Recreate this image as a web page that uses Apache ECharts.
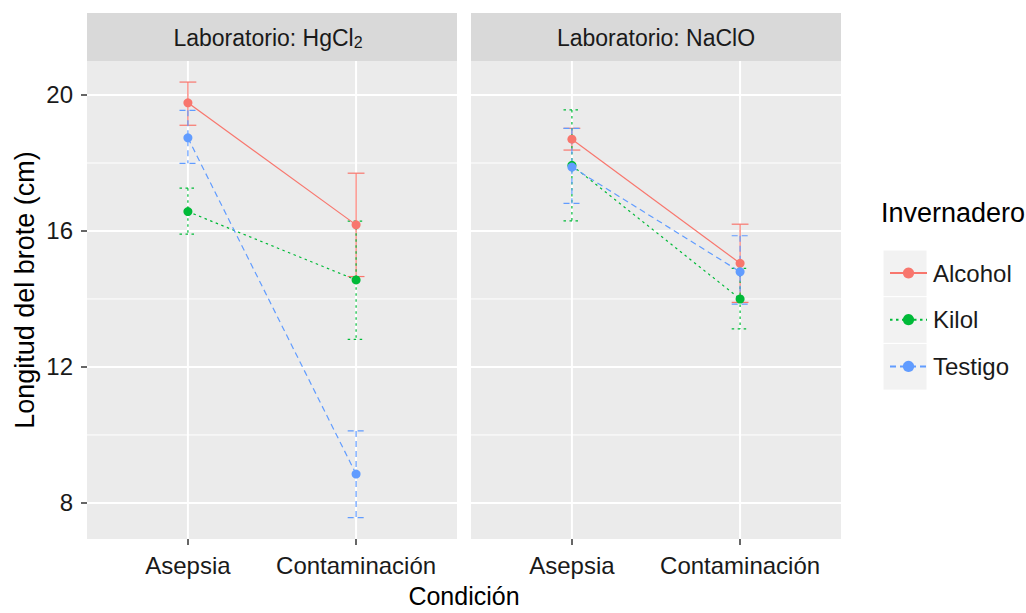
<!DOCTYPE html>
<html>
<head>
<meta charset="utf-8">
<script src="https://cdn.jsdelivr.net/npm/echarts@6/dist/echarts.min.js"></script>
<style>html,body{margin:0;padding:0;background:#fff}#c{width:1026px;height:613px}</style>
</head>
<body>
<div id="c"></div>
<script>
// ---- data ----
const categories = ['Asepsia', 'Contaminación'];
const xPositions = [1, 2];
const groups = ['Alcohol', 'Kilol', 'Testigo'];
const yTicks = [8, 12, 16, 20];
const yMinorTicks = [10, 14, 18];

// Laboratorio: HgCl2
const hgAlcohol = [19.77, 16.18];
const hgAlcoholLow = [19.11, 14.66];
const hgAlcoholHigh = [20.38, 17.70];
const hgKilol = [16.57, 14.56];
const hgKilolLow = [15.91, 12.81];
const hgKilolHigh = [17.26, 16.29];
const hgTestigo = [18.74, 8.85];
const hgTestigoLow = [17.99, 7.57];
const hgTestigoHigh = [19.55, 10.12];

// Laboratorio: NaClO
const naAlcohol = [18.70, 15.05];
const naAlcoholLow = [18.38, 13.90];
const naAlcoholHigh = [19.02, 16.20];
const naKilol = [17.93, 14.00];
const naKilolLow = [16.30, 13.12];
const naKilolHigh = [19.56, 14.90];
const naTestigo = [17.88, 14.80];
const naTestigoLow = [16.81, 13.85];
const naTestigoHigh = [19.02, 15.86];

// ---- styling ----
const colors = ['#F8766D', '#00BA38', '#619CFF'];
const dashes = [null, [2.5, 3.5], [6, 4]];
const lineTypes = ['solid', [2.5, 3.5], [6, 4]];
const FONT = '"Liberation Sans", Arial, sans-serif';
const capHalf = 0.05;

const panels = [
  { means: [hgAlcohol, hgKilol, hgTestigo], lows: [hgAlcoholLow, hgKilolLow, hgTestigoLow], highs: [hgAlcoholHigh, hgKilolHigh, hgTestigoHigh] },
  { means: [naAlcohol, naKilol, naTestigo], lows: [naAlcoholLow, naKilolLow, naTestigoLow], highs: [naAlcoholHigh, naKilolHigh, naTestigoHigh] }
];

function ebRender(color, dash) {
  return function (params, api) {
    const x = api.value(0), lo = api.value(1), hi = api.value(2);
    const top = api.coord([x, hi]), bot = api.coord([x, lo]);
    const l = api.coord([x - capHalf, hi])[0], r = api.coord([x + capHalf, hi])[0];
    const st = () => ({ stroke: color, lineWidth: 1.2, lineDash: dash, fill: null });
    return { type: 'group', children: [
      { type: 'line', shape: { x1: top[0], y1: top[1], x2: bot[0], y2: bot[1] }, style: st() },
      { type: 'line', shape: { x1: l, y1: top[1], x2: r, y2: top[1] }, style: st() },
      { type: 'line', shape: { x1: l, y1: bot[1], x2: r, y2: bot[1] }, style: st() }
    ]};
  };
}

function gridRender(params, api) {
  const cs = params.coordSys;
  const kind = api.value(2);
  if (kind === 2) {
    const x = api.coord([api.value(0), 14])[0];
    return { type: 'line', shape: { x1: x, y1: cs.y, x2: x, y2: cs.y + cs.height }, style: { stroke: '#FFFFFF', lineWidth: 2 } };
  }
  const y = api.coord([1.5, api.value(1)])[1];
  return { type: 'line', shape: { x1: cs.x, y1: y, x2: cs.x + cs.width, y2: y }, style: { stroke: '#FFFFFF', lineWidth: kind === 0 ? 2 : 1 } };
}

const gridData = [];
yTicks.forEach(v => gridData.push([1.5, v, 0]));
yMinorTicks.forEach(v => gridData.push([1.5, v, 1]));
xPositions.forEach(v => gridData.push([v, 14, 2]));

const series = [];
panels.forEach((p, pi) => {
  series.push({ type: 'custom', name: 'grid' + pi, xAxisIndex: pi, yAxisIndex: pi, z: 1, silent: true,
    renderItem: gridRender, data: gridData, encode: { x: 0, y: 1 } });
  groups.forEach((g, gi) => {
    series.push({ type: 'custom', name: 'eb-' + g + '-' + pi, xAxisIndex: pi, yAxisIndex: pi, z: 2 + gi * 0.1,
      renderItem: ebRender(colors[gi], dashes[gi]),
      data: xPositions.map((x, i) => [x, p.lows[gi][i], p.highs[gi][i]]), encode: { x: 0, y: [1, 2] } });
  });
  groups.forEach((g, gi) => {
    series.push({ type: 'line', name: g, xAxisIndex: pi, yAxisIndex: pi, z: 3 + gi * 0.1,
      symbol: 'circle', symbolSize: 9, showSymbol: true,
      itemStyle: { color: colors[gi], borderWidth: 0 },
      lineStyle: { color: colors[gi], width: 1.2, type: lineTypes[gi] },
      data: xPositions.map((x, i) => [x, p.means[gi][i]]) });
  });
});

function xAxisFor(i) {
  return { type: 'value', gridIndex: i, min: 0.4, max: 2.6,
    axisLine: { show: false }, splitLine: { show: false },
    axisTick: { show: true, customValues: xPositions, length: 6, lineStyle: { color: '#333', width: 1.5 } },
    axisLabel: { customValues: xPositions, margin: 14, fontSize: 24, fontFamily: FONT, color: '#1a1a1a',
      formatter: v => categories[xPositions.indexOf(v)] } };
}
function yAxisFor(i) {
  return { type: 'value', gridIndex: i, min: 6.94, max: 21.0,
    axisLine: { show: false }, splitLine: { show: false },
    axisTick: { show: i === 0, customValues: yTicks, length: 6, lineStyle: { color: '#333', width: 1.5 } },
    axisLabel: { show: i === 0, customValues: yTicks, margin: 14, fontSize: 24, fontFamily: FONT, color: '#1a1a1a' } };
}

const option = {
  animation: false,
  backgroundColor: '#FFFFFF',
  grid: [
    { left: 87, top: 61, width: 370, height: 478, show: true, backgroundColor: '#EBEBEB', borderWidth: 0 },
    { left: 471, top: 61, width: 370, height: 478, show: true, backgroundColor: '#EBEBEB', borderWidth: 0 }
  ],
  xAxis: [xAxisFor(0), xAxisFor(1)],
  yAxis: [yAxisFor(0), yAxisFor(1)],
  legend: {
    data: groups, orient: 'vertical', left: 884, top: 253,
    itemWidth: 37, itemHeight: 14, itemGap: 16.7,
    textStyle: { fontSize: 24, fontFamily: FONT, color: '#1a1a1a', lineHeight: 30, padding: [0, 0, 0, 1] },
    selectedMode: false
  },
  graphic: [
    { type: 'rect', shape: { x: 87, y: 13, width: 370, height: 48 }, style: { fill: '#D9D9D9' }, z: -1 },
    { type: 'rect', shape: { x: 471, y: 13, width: 370, height: 48 }, style: { fill: '#D9D9D9' }, z: -1 },
    { type: 'text', x: 268, y: 38, style: { text: 'Laboratorio: HgCl{s|2}', align: 'center', verticalAlign: 'middle',
      font: '23px ' + FONT, fill: '#1a1a1a', rich: { s: { fontSize: 16, fontFamily: FONT, fill: '#1a1a1a', padding: [8, 0, 0, 0] } } } },
    { type: 'text', x: 656, y: 38, style: { text: 'Laboratorio: NaClO', align: 'center', verticalAlign: 'middle',
      font: '23px ' + FONT, fill: '#1a1a1a' } },
    { type: 'text', x: 25, y: 290, rotation: Math.PI / 2, style: { text: 'Longitud del brote (cm)', align: 'center', verticalAlign: 'middle',
      font: '27px ' + FONT, fill: '#000' } },
    { type: 'text', x: 464, y: 596, style: { text: 'Condición', align: 'center', verticalAlign: 'middle',
      font: '25px ' + FONT, fill: '#000' } },
    { type: 'text', x: 881, y: 213, style: { text: 'Invernadero', align: 'left', verticalAlign: 'middle',
      font: '27px ' + FONT, fill: '#000' } },
    { type: 'rect', shape: { x: 883, y: 250, width: 44, height: 46.7 }, style: { fill: '#F2F2F2', stroke: '#FFFFFF', lineWidth: 1 }, z: -1 },
    { type: 'rect', shape: { x: 883, y: 296.7, width: 44, height: 46.7 }, style: { fill: '#F2F2F2', stroke: '#FFFFFF', lineWidth: 1 }, z: -1 },
    { type: 'rect', shape: { x: 883, y: 343.4, width: 44, height: 46.7 }, style: { fill: '#F2F2F2', stroke: '#FFFFFF', lineWidth: 1 }, z: -1 }
  ],
  series: series
};

const chart = echarts.init(document.getElementById('c'), null, { renderer: 'svg' });
chart.setOption(option);
</script>
</body>
</html>
